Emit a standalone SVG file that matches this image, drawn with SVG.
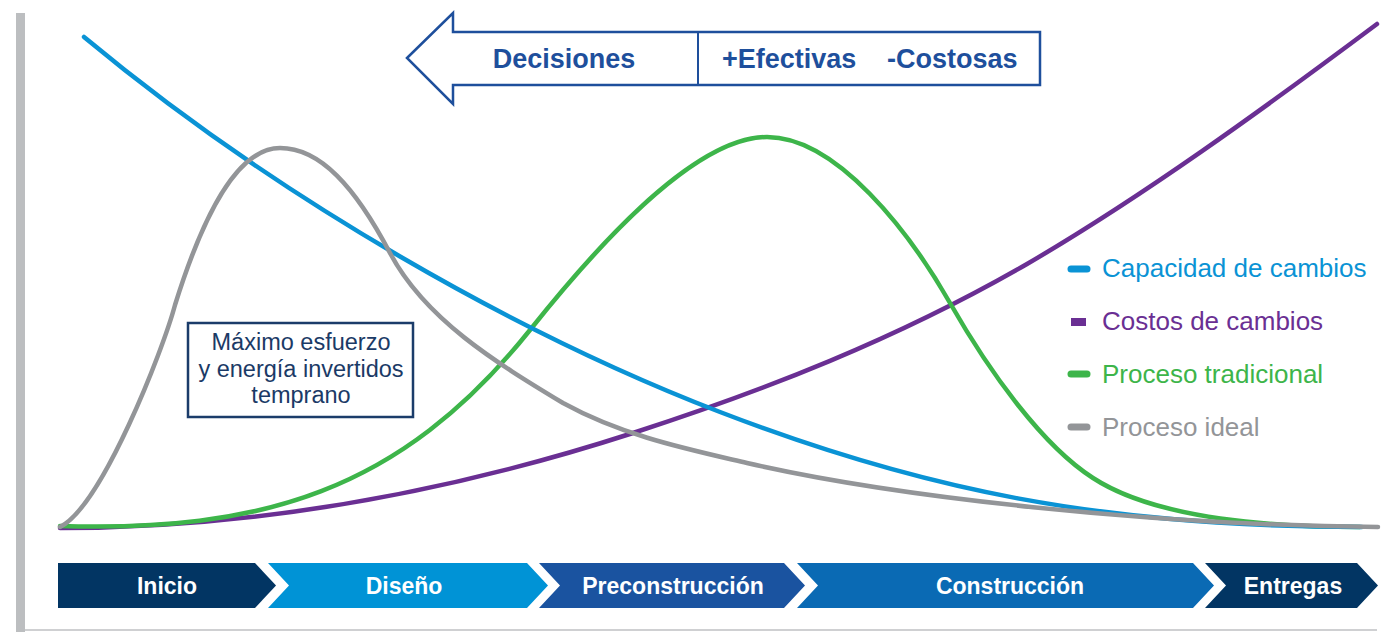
<svg xmlns="http://www.w3.org/2000/svg" width="1381" height="632" viewBox="0 0 1381 632">
<style>
.curve{fill:none;stroke-width:4.5;stroke-linecap:round;stroke-linejoin:round}
.blue{stroke:#0a93d5}
.purple{stroke:#6a2f93}
.green{stroke:#3db54a}
.gray{stroke:#939598}
.phase{font-family:"Liberation Sans",Arial,sans-serif;font-weight:bold;font-size:23px;fill:#ffffff;text-anchor:middle}
.legend{font-family:"Liberation Sans",Arial,sans-serif;font-size:26px}
.note{font-family:"Liberation Sans",Arial,sans-serif;font-size:23.5px;fill:#1b3a66;text-anchor:middle}
.head{font-family:"Liberation Sans",Arial,sans-serif;font-weight:bold;font-size:27px;fill:#1e4f9c}
</style>
<rect width="1381" height="632" fill="#ffffff"/>
<g id="axes">
<rect x="16" y="13" width="9" height="619" fill="#bcbec0"/>
<rect x="25" y="629" width="1352" height="2" fill="#cfd0d2"/>
</g>
<g id="connectors">
<path class="curve purple" d="M60,528 C300,528 500,476 633,433 C763,391 897,339 1027,264 C1142,197 1262,110 1377,24"/>
<path class="curve green" d="M60,526 C260,532 400,492.5 530,330 C585,261 690,137 767,137 C837,137 910,233 950,303 C990,373 1043,446 1093,478 C1150,515 1250,527 1360,527"/>
<path class="curve blue" d="M84,37 C280,200 520,335 720,412 C920,489 1100,527 1362,527"/>
<path class="curve gray" d="M60,527 C102,506 163,350 175,305 C195,241 230,148 280,148 C320,148 355,186.5 390,253 C425,319 495,362 563,403 C623,436 687,449 747,463 C897,497.5 1150,525 1378,527"/>
</g>
<g id="decisiones">
<polygon points="407,58 453,13 453,32 1040,32 1040,85 453,85 453,104" fill="#ffffff" stroke="#1e4f9c" stroke-width="2.5" stroke-linejoin="miter"/>
<line x1="698" y1="32" x2="698" y2="85" stroke="#1e4f9c" stroke-width="2"/>
<text class="head" x="564" y="68" text-anchor="middle">Decisiones</text>
<text class="head" x="722" y="68">+Efectivas</text>
<text class="head" x="887" y="68">-Costosas</text>
</g>
<g id="nota">
<rect x="188" y="323" width="225" height="94" fill="#ffffff" stroke="#1b3c6a" stroke-width="2.5"/>
<text class="note" x="301" y="350">Máximo esfuerzo</text>
<text class="note" x="301" y="377">y energía invertidos</text>
<text class="note" x="301" y="403">temprano</text>
</g>
<g id="leyenda">
<line x1="1071" y1="269" x2="1087" y2="269" stroke="#0a93d5" stroke-width="7" stroke-linecap="round"/>
<text class="legend" x="1102" y="277" fill="#0a93d5">Capacidad de cambios</text>
<rect x="1071" y="318" width="15" height="8" fill="#6a2f93"/>
<text class="legend" x="1102" y="330" fill="#6a2f93">Costos de cambios</text>
<line x1="1071" y1="374" x2="1087" y2="374" stroke="#3db54a" stroke-width="7" stroke-linecap="round"/>
<text class="legend" x="1102" y="383" fill="#3db54a">Proceso tradicional</text>
<line x1="1071" y1="427" x2="1087" y2="427" stroke="#939598" stroke-width="7" stroke-linecap="round"/>
<text class="legend" x="1102" y="436" fill="#939598">Proceso ideal</text>
</g>
<g id="inicio">
<polygon points="58,563 255,563 276,585.5 255,608 58,608" fill="#023563"/>
<text class="phase" x="167" y="594">Inicio</text>
</g>
<g id="diseno">
<polygon points="268,563 527,563 548,585.5 527,608 268,608 289,585.5" fill="#0093d6"/>
<text class="phase" x="404" y="594">Diseño</text>
</g>
<g id="preconstruccion">
<polygon points="539,563 784,563 805,585.5 784,608 539,608 560,585.5" fill="#1a53a0"/>
<text class="phase" x="673" y="594">Preconstrucción</text>
</g>
<g id="construccion">
<polygon points="797,563 1193,563 1214,585.5 1193,608 797,608 818,585.5" fill="#0a6ab4"/>
<text class="phase" x="1010" y="594">Construcción</text>
</g>
<g id="entregas">
<polygon points="1205,563 1357,563 1378,585.5 1357,608 1205,608 1226,585.5" fill="#023563"/>
<text class="phase" x="1293" y="594">Entregas</text>
</g>
</svg>
